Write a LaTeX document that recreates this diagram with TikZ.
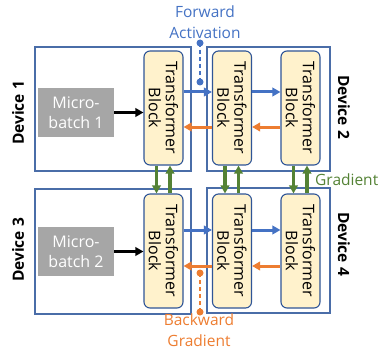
\documentclass[tikz,border=0pt]{standalone}
\usepackage{fontspec}
\setmainfont{Open Sans}
\usetikzlibrary{arrows.meta}

\definecolor{devline}{HTML}{4A6DA8}
\definecolor{blkline}{HTML}{2F5597}
\definecolor{blkfill}{HTML}{FFF2CC}
\definecolor{fwdblue}{HTML}{4472C4}
\definecolor{bwdorange}{HTML}{ED7D31}
\definecolor{gradgreen}{HTML}{548235}
\definecolor{mbgray}{HTML}{A6A6A6}

\tikzset{
  devbox/.style = {draw = devline, line width = 1.3pt, fill = white},
  tblock/.style = {draw = blkline, line width = 1.1pt, fill = blkfill, rounded corners = 6pt,
                   minimum width = 39pt, minimum height = 114pt, inner sep = 0pt},
  tlabel/.style = {rotate = -90, align = center, font = \fontsize{16}{17}\selectfont},
  mbatch/.style = {fill = mbgray, text = white, align = center, minimum width = 76pt,
                   minimum height = 49pt, inner sep = 0pt, font = \fontsize{16}{20}\selectfont},
  devlabel/.style = {font = \fontsize{15.5}{17}\selectfont\bfseries},
  arr/.style = {line width = 3pt, -{Triangle[length = 8pt, width = 8.5pt]}},
  fwd/.style = {arr, draw = fwdblue},
  bwd/.style = {arr, draw = bwdorange},
  grad/.style = {arr, draw = gradgreen, line width = 3.3pt},
  note/.style = {align = center, font = \fontsize{15.5}{21}\selectfont}
}

\begin{document}
\begin{tikzpicture}[x = 1pt, y = -1pt]
\useasboundingbox (0, 0) rectangle (382, 350);

% device frames
\node[devbox, minimum width = 156pt, minimum height = 124pt] (d1) at (113, 109) {};
\node[devbox, minimum width = 123pt, minimum height = 124pt] (d2) at (268.5, 109) {};
\node[devbox, minimum width = 156pt, minimum height = 125pt] (d3) at (113, 251.5) {};
\node[devbox, minimum width = 123pt, minimum height = 125pt] (d4) at (268.5, 250.5) {};

\node[devlabel, rotate = 90] (l1) at (18, 113) {Device 1};
\node[devlabel, rotate = -90] (l2) at (344, 107) {Device 2};
\node[devlabel, rotate = 90] (l3) at (18, 250) {Device 3};
\node[devlabel, rotate = -90] (l4) at (344, 244) {Device 4};

% transformer blocks
\node[tblock] (b1) at (163.5, 108) {};
\node[tblock] (b2) at (232, 108) {};
\node[tblock] (b3) at (300.5, 108) {};
\node[tblock] (b4) at (163.5, 251) {};
\node[tblock] (b5) at (232, 251) {};
\node[tblock] (b6) at (300.5, 251) {};
\foreach \b in {b1, b2, b3, b4, b5, b6}
  \node[tlabel] at (\b) {Transformer\\Block};

% micro-batches
\node[mbatch] (m1) at (76, 112.5) {Micro-\\batch 1};
\node[mbatch] (m2) at (76, 251.5) {Micro-\\batch 2};
\draw[arr, draw = black, line width = 2.4pt] (m1.east) -- (b1.west |- m1.east);
\draw[arr, draw = black, line width = 2.4pt] (m2.east) -- (b4.west |- m2.east);

% forward / backward
\draw[fwd] ([yshift = 16pt]b1.east) -- ([yshift = 16pt]b2.west);
\draw[fwd] ([yshift = 16pt]b2.east) -- ([yshift = 16pt]b3.west);
\draw[bwd] ([yshift = -19pt]b2.west) -- ([yshift = -19pt]b1.east);
\draw[bwd] ([yshift = -19pt]b3.west) -- ([yshift = -19pt]b2.east);
\draw[fwd] ([yshift = 21pt]b4.east) -- ([yshift = 21pt]b5.west);
\draw[fwd] ([yshift = 21pt]b5.east) -- ([yshift = 21pt]b6.west);
\draw[bwd] ([yshift = -15pt]b5.west) -- ([yshift = -15pt]b4.east);
\draw[bwd] ([yshift = -15pt]b6.west) -- ([yshift = -15pt]b5.east);

% gradients between devices
\foreach \u/\l in {b1/b4, b2/b5, b3/b6} {
  \draw[grad] ([xshift = -7pt]\u.south) -- ([xshift = -7pt]\l.north);
  \draw[grad] ([xshift = 6.5pt]\l.north) -- ([xshift = 6.5pt]\u.south);
}
\node[anchor = west, text = gradgreen, font = \fontsize{15.5}{17}\selectfont, inner sep = 0pt] (gr) at (315, 180) {Gradient};

% annotations
\coordinate (fa1) at (200, 43);
\coordinate (fa2) at (200, 82);
\draw[fwdblue, line width = 1.3pt, dash pattern = on 4pt off 3pt] (fa1) -- (fa2);
\fill[fwdblue] (fa1) circle [radius = 3.5pt] (fa2) circle [radius = 3.5pt];
\node[note, text = fwdblue] (fa) at (205, 22) {Forward\\Activation};

\coordinate (bg1) at (200, 273);
\coordinate (bg2) at (200, 312);
\draw[bwdorange, line width = 1.3pt, dash pattern = on 4pt off 3pt] (bg1) -- (bg2);
\fill[bwdorange] (bg1) circle [radius = 3.5pt] (bg2) circle [radius = 3.5pt];
\node[note, text = bwdorange] (bg) at (199, 330) {Backward\\Gradient};
\end{tikzpicture}
\end{document}
